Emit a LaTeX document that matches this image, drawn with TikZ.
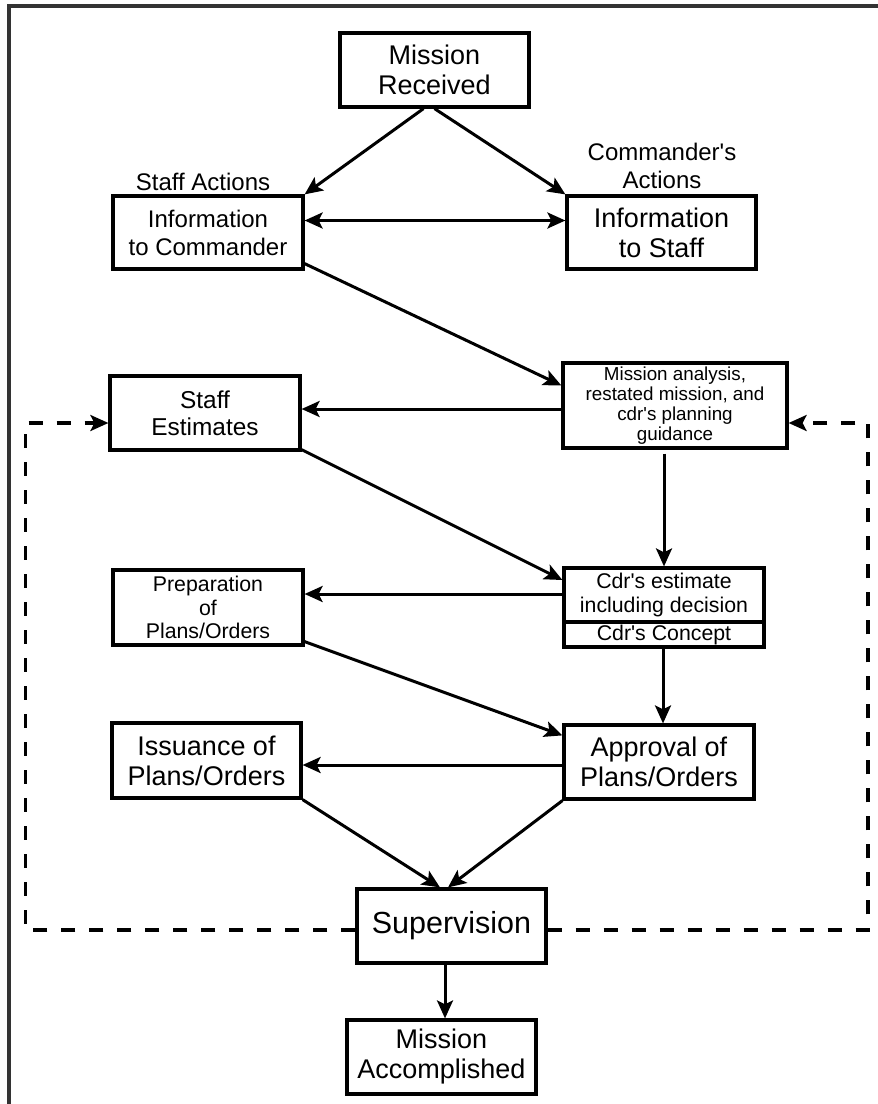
\documentclass[tikz,border=0pt]{standalone}
\usepackage{fontspec}
\setmainfont{Liberation Sans}
\usetikzlibrary{arrows.meta,positioning}

\begin{document}
\begin{tikzpicture}[x=1pt,y=-1pt,->,>={Stealth[length=18pt,width=16pt,inset=4pt]},
  every edge/.append style={line width=3pt},
  box/.style={draw,-,line width=3.2pt,align=center,inner sep=0pt,
    minimum width=189pt,minimum height=74pt},
  fbig/.style={font=\fontsize{27}{30}\selectfont},
  fmid/.style={font=\fontsize{24}{28}\selectfont},
  fsmall/.style={font=\fontsize{21.3}{23.5}\selectfont},
  dashline/.style={line width=3.2pt,dash pattern=on 14pt off 14pt}]
  \useasboundingbox (0,0) rectangle (878,1104);
  \draw[-,line width=3.5pt,black!80] (878,6) -- (9,6) -- (9,1104);

  % boxes
  \node[box,fbig] (mr) at (434.5,70) {Mission\\Received};
  \node[box,fmid,minimum width=190pt,minimum height=73pt] (ic) at (208,232.5) {Information\\to Commander};
  \node[box,fbig,minimum height=73pt] (is) at (661.5,232.5) {Information\\to Staff};
  \node[fmid] (sa) at (203,182) {Staff Actions};
  \node[fmid,align=center] (ca) at (662,165.5) {Commander\textquotesingle s\\Actions};
  \node[box,font=\fontsize{18.8}{20}\selectfont,minimum width=224pt,minimum height=85pt] (ma) at (675,405.5) {Mission analysis,\\restated mission, and\\cdr\textquotesingle s planning\\guidance};
  \node[box,font=\fontsize{24.4}{27}\selectfont,minimum width=190pt] (se) at (205,413) {Staff\\Estimates};
  \node[box,fsmall,minimum width=200pt,minimum height=54pt] (ce) at (664,595) {Cdr\textquotesingle s estimate\\including decision};
  \node[box,fsmall,minimum width=200pt,minimum height=25pt] (cc) at (664,634.5) {Cdr\textquotesingle s Concept};
  \node[box,fsmall,minimum width=190pt,minimum height=75pt] (pp) at (208,607.5) {Preparation\\of\\Plans/Orders};
  \node[box,fbig,minimum height=75pt] (ip) at (206.5,760.5) {Issuance of\\Plans/Orders};
  \node[box,fbig,minimum width=190pt] (ap) at (659,762) {Approval of\\Plans/Orders};
  \node[box,font=\fontsize{30.5}{33}\selectfont] (sv) at (451.5,926) {Supervision};
  \node[box,fbig] (mac) at (441.5,1057) {Mission\\Accomplished};

  \path ([xshift=-11pt]mr.south) edge (ic.north east)
        (mr.south) edge (is.north west)
        ([yshift=12pt]ic.east) edge[<->] ([yshift=12pt]is.west)
        ([yshift=7pt]ic.south east) edge ([yshift=20pt]ma.west)
        ([yshift=-3.5pt]ma.west) edge ([yshift=4pt]se.east)
        ([xshift=-11pt,yshift=-4pt]ma.south) edge (ce.north)
        ([yshift=2pt]se.south east) edge ([yshift=15pt]ce.west)
        ([yshift=1pt]ce.west) edge ([yshift=13.5pt]pp.east)
        ([yshift=5pt]pp.south east) edge ([yshift=-12pt]ap.north west)
        ([xshift=-1pt]cc.south) edge ([xshift=4pt]ap.north)
        ([yshift=-3pt]ap.west) edge ([yshift=-4.5pt]ip.east)
        (ip.south east) edge ([xshift=-11.5pt]sv.north)
        (ap.south west) edge ([xshift=-3.5pt]sv.north)
        ([xshift=-6.5pt]sv.south) edge ([xshift=3.5pt]mac.north);

  % feedback loop
  \coordinate (lb) at (25.5,930);
  \coordinate (lt) at (25.5,423);
  \coordinate (rb) at (868,930);
  \coordinate (rt) at (868,423);
  \draw[dashline] ([yshift=-4pt]sv.west) -- (lb) -- (lt) -- ([yshift=-10pt]se.west);
  \draw[dashline] ([yshift=-4pt]sv.east) -- (rb) -- (rt) -- ([yshift=-17.5pt]ma.east);
\end{tikzpicture}
\end{document}
